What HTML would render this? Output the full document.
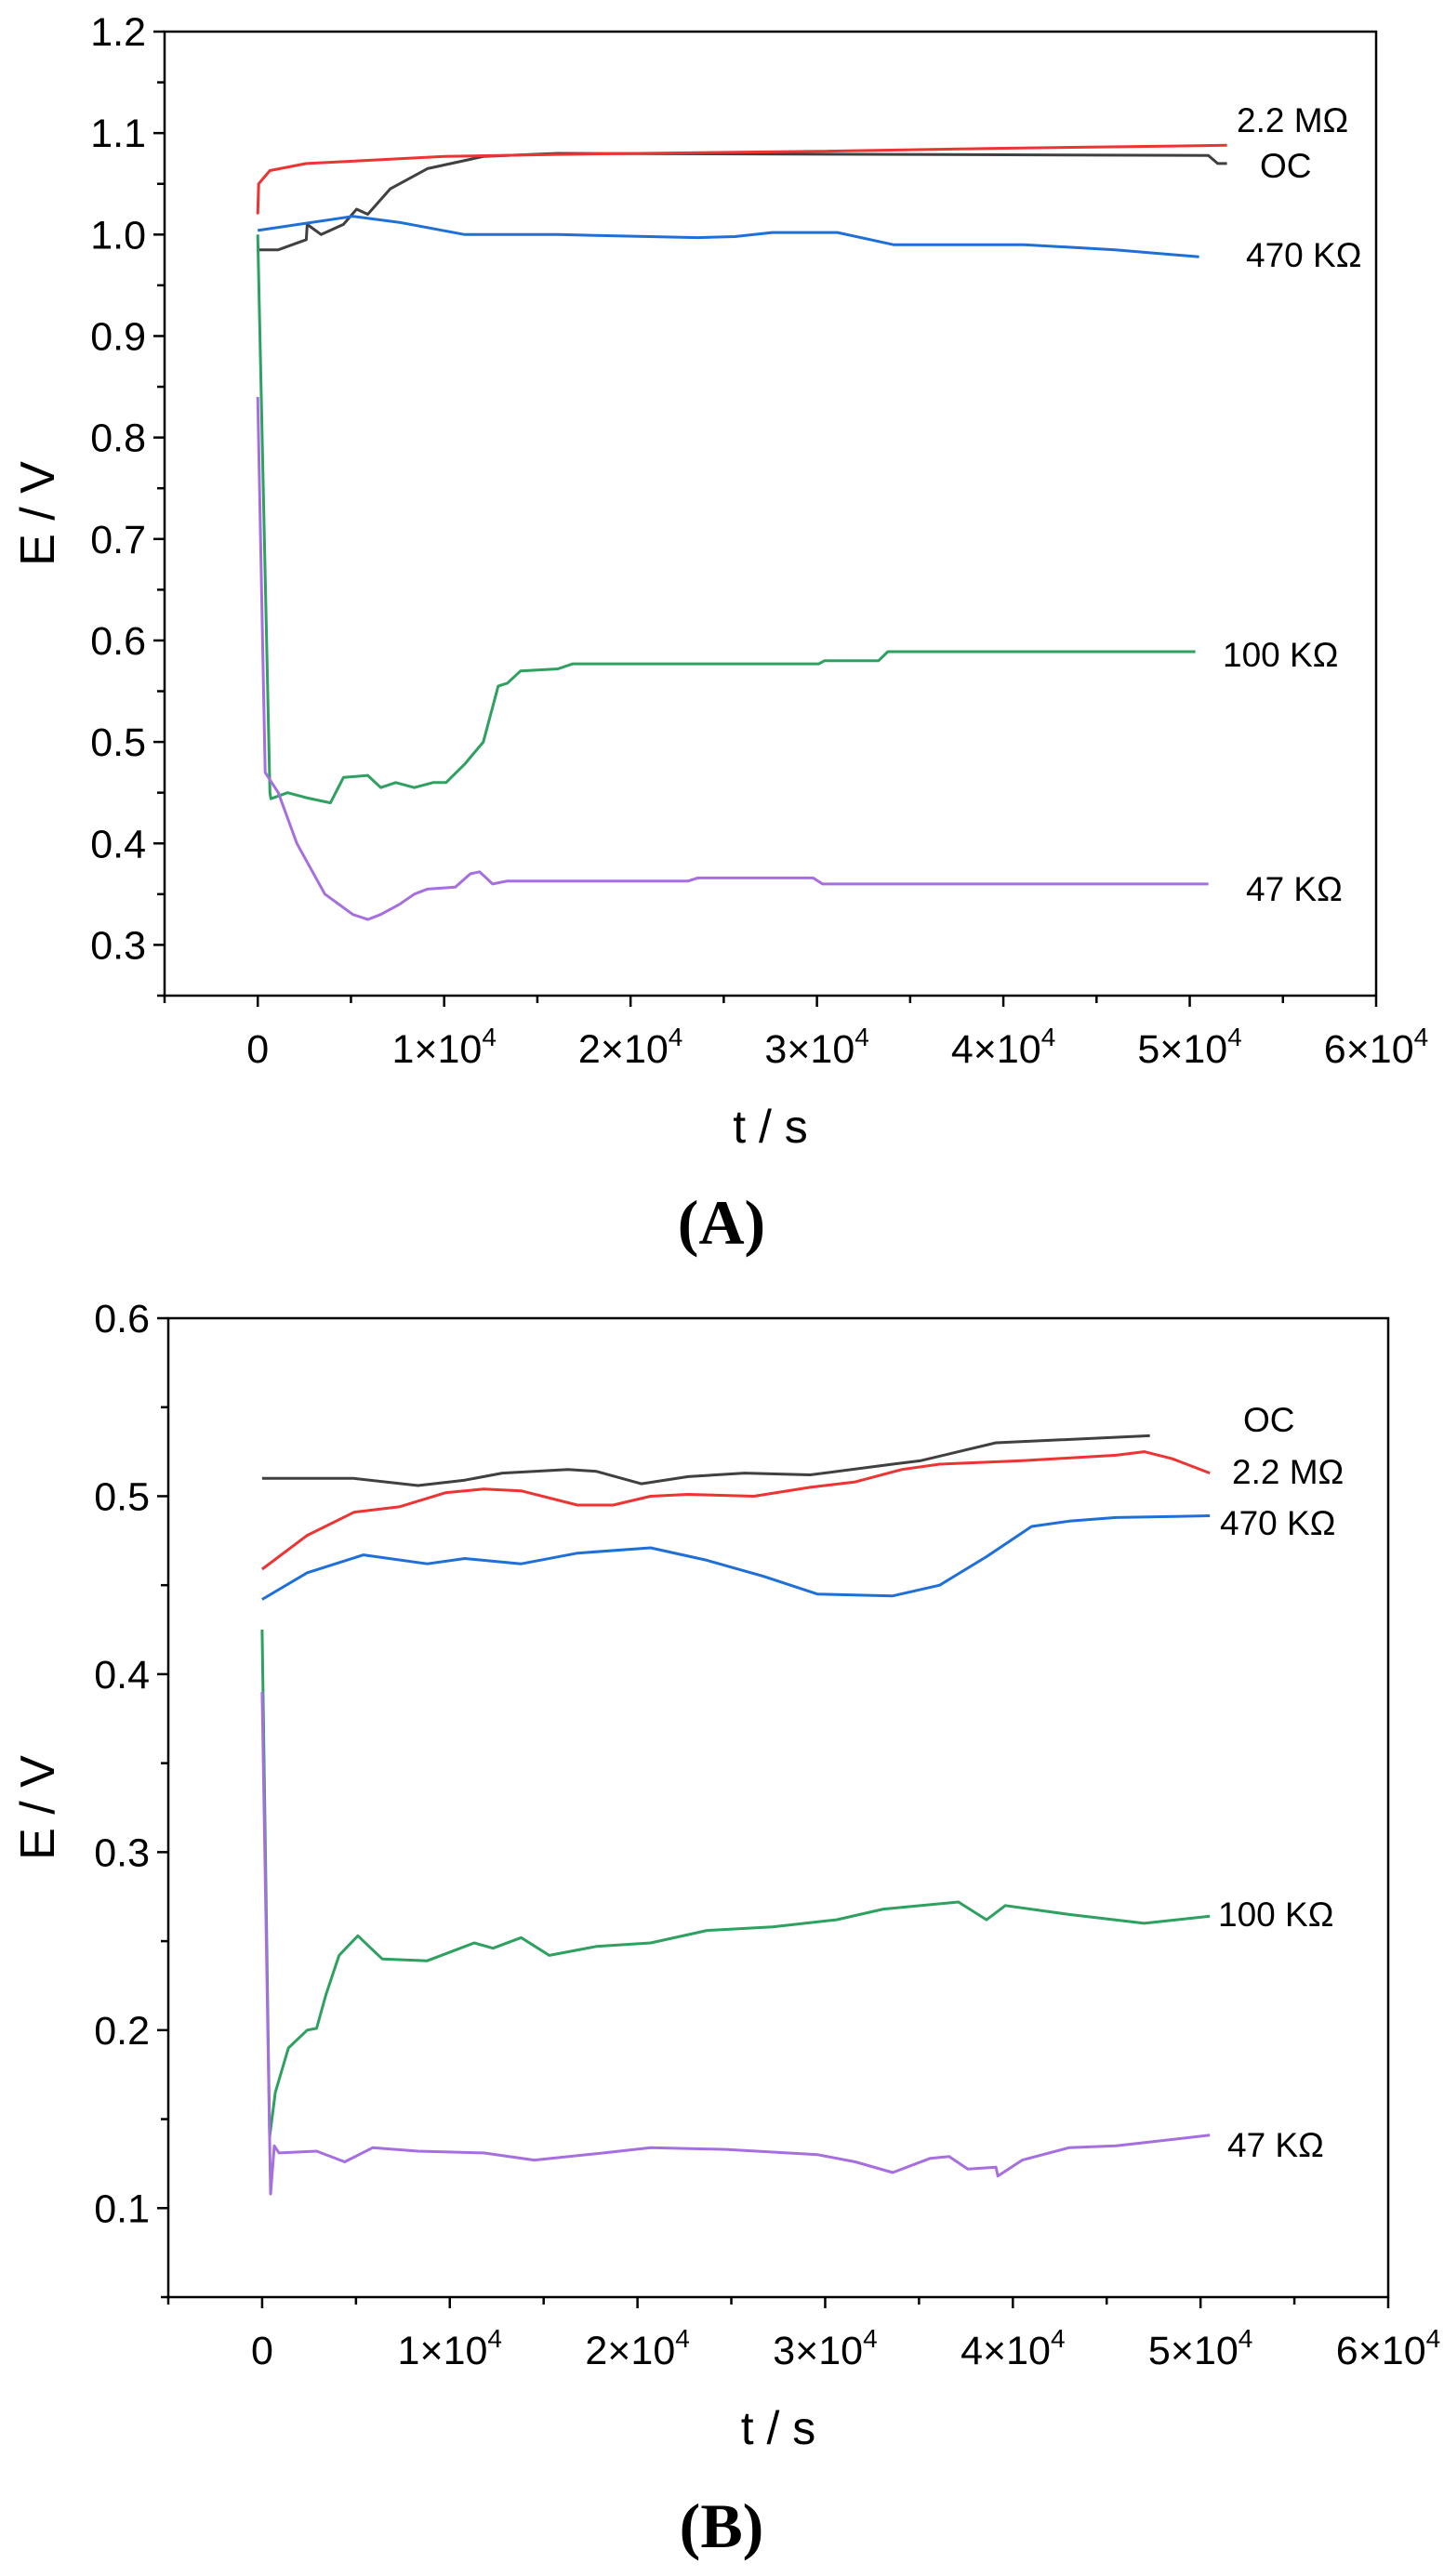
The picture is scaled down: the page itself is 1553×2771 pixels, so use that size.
<!DOCTYPE html>
<html><head><meta charset="utf-8"><style>
html,body{margin:0;padding:0;background:#fff;}
svg{display:block;font-family:"Liberation Sans",sans-serif;}
</style></head><body>
<svg id="fig" width="1553" height="2771" viewBox="0 0 1553 2771" xmlns="http://www.w3.org/2000/svg">
<g id="gA"></g>
<g id="gB"></g>
<text x="776" y="1338" text-anchor="middle" font-family="Liberation Serif,serif" font-weight="bold" font-size="68">(A)</text>
<text x="776" y="2740" text-anchor="middle" font-family="Liberation Serif,serif" font-weight="bold" font-size="68">(B)</text>
</svg>
<script>
// Panel A data (t in units of 1e4 s, E in V)
const aRed=[[0,1.02],[0.005,1.05],[0.065,1.063],[0.26,1.07],[1.0,1.077],[1.61,1.079],[3.0,1.082],[4.0,1.085],[5.2,1.088]];
const aBlack=[[0,0.985],[0.11,0.985],[0.26,0.995],[0.265,1.01],[0.34,1.0],[0.46,1.01],[0.53,1.025],[0.59,1.02],[0.71,1.045],[0.91,1.065],[1.21,1.077],[1.61,1.08],[5.1,1.078],[5.15,1.07],[5.2,1.07]];
const aBlue=[[0,1.004],[0.51,1.018],[0.76,1.012],[1.11,1.0],[1.61,1.0],[2.36,0.997],[2.56,0.998],[2.76,1.002],[3.11,1.002],[3.41,0.99],[4.11,0.99],[4.6,0.985],[5.05,0.978]];
const aGreen=[[0,1.0],[0.065,0.45],[0.07,0.444],[0.16,0.45],[0.26,0.445],[0.39,0.44],[0.46,0.465],[0.59,0.467],[0.66,0.455],[0.74,0.46],[0.84,0.455],[0.94,0.46],[1.01,0.46],[1.11,0.478],[1.21,0.5],[1.29,0.555],[1.34,0.558],[1.41,0.57],[1.61,0.572],[1.69,0.577],[3.01,0.577],[3.04,0.58],[3.33,0.58],[3.38,0.589],[5.03,0.589]];
const aPurple=[[0,0.84],[0.04,0.47],[0.11,0.45],[0.21,0.4],[0.36,0.35],[0.51,0.33],[0.59,0.325],[0.66,0.33],[0.76,0.34],[0.84,0.35],[0.91,0.355],[1.06,0.357],[1.14,0.37],[1.19,0.372],[1.26,0.36],[1.34,0.363],[2.31,0.363],[2.36,0.366],[2.98,0.366],[3.03,0.36],[5.1,0.36]];
const aYTicks=[0.3,0.4,0.5,0.6,0.7,0.8,0.9,1.0,1.1,1.2];
// Panel B data
const bBlack=[[0,0.51],[0.49,0.51],[0.83,0.506],[1.08,0.509],[1.28,0.513],[1.63,0.515],[1.78,0.514],[2.02,0.507],[2.27,0.511],[2.57,0.513],[2.92,0.512],[3.36,0.518],[3.51,0.52],[3.71,0.525],[3.91,0.53],[4.73,0.534]];
const bRed=[[0,0.459],[0.24,0.478],[0.49,0.491],[0.73,0.494],[0.98,0.502],[1.18,0.504],[1.38,0.503],[1.68,0.495],[1.87,0.495],[2.07,0.5],[2.27,0.501],[2.62,0.5],[2.92,0.505],[3.16,0.508],[3.41,0.515],[3.61,0.518],[4.05,0.52],[4.55,0.523],[4.7,0.525],[4.85,0.521],[5.05,0.513]];
const bBlue=[[0,0.442],[0.24,0.457],[0.54,0.467],[0.88,0.462],[1.08,0.465],[1.38,0.462],[1.68,0.468],[2.07,0.471],[2.37,0.464],[2.67,0.455],[2.96,0.445],[3.36,0.444],[3.61,0.45],[3.86,0.466],[4.1,0.483],[4.3,0.486],[4.55,0.488],[5.05,0.489]];
const bGreen=[[0,0.425],[0.04,0.14],[0.07,0.165],[0.14,0.19],[0.24,0.2],[0.29,0.201],[0.34,0.22],[0.41,0.242],[0.51,0.253],[0.59,0.245],[0.64,0.24],[0.88,0.239],[1.13,0.249],[1.23,0.246],[1.38,0.252],[1.53,0.242],[1.78,0.247],[2.07,0.249],[2.37,0.256],[2.72,0.258],[3.06,0.262],[3.31,0.268],[3.71,0.272],[3.86,0.262],[3.96,0.27],[4.3,0.265],[4.7,0.26],[5.05,0.264]];
const bPurple=[[0,0.39],[0.045,0.108],[0.065,0.135],[0.09,0.131],[0.29,0.132],[0.44,0.126],[0.59,0.134],[0.83,0.132],[1.18,0.131],[1.45,0.127],[1.82,0.131],[2.07,0.134],[2.47,0.133],[2.96,0.13],[3.16,0.126],[3.36,0.12],[3.56,0.128],[3.66,0.129],[3.76,0.122],[3.91,0.123],[3.92,0.118],[4.05,0.127],[4.3,0.134],[4.55,0.135],[5.05,0.141]];
const bYTicks=[0.1,0.2,0.3,0.4,0.5,0.6];
const xTicks=[0,1,2,3,4,5,6];

const NS="http://www.w3.org/2000/svg";
function mk(p,tag,at){const e=document.createElementNS(NS,tag);for(const k in at)e.setAttribute(k,at[k]);p.appendChild(e);return e;}

function panel(g,cfg){
  const X=t=>cfg.L+(t-(-0.5))/(6.5)*(cfg.R-cfg.L);
  const Y=v=>cfg.B-(v-cfg.ymin)/(cfg.ymax-cfg.ymin)*(cfg.B-cfg.T);
  const fr=mk(g,'rect',{x:cfg.L,y:cfg.T,width:cfg.R-cfg.L,height:cfg.B-cfg.T,fill:'none',stroke:'#000','stroke-width':2.5});
  
  
  for(let t=-0.5;t<=6.001;t+=0.5){
    const major=Math.abs(t-Math.round(t))<1e-6;
    const tk=mk(g,'line',{x1:X(t),x2:X(t),y1:cfg.B,y2:cfg.B+(major?12:8),stroke:'#000','stroke-width':2.5});
    
    
  }
  xTicks.forEach(t=>{
    const tx=mk(g,'text',{x:X(t),y:cfg.B+72,'text-anchor':'middle','font-size':43});
    
    
    if(t===0){tx.textContent='0';}
    else{tx.textContent=t+'×10';const s=mk(tx,'tspan',{dy:-18,'font-size':28});s.textContent='4';}
  });
  for(let v=cfg.ymin;v<=cfg.ymax+1e-6;v+=0.05){
    const major=cfg.yticks.some(q=>Math.abs(q-v)<1e-6);
    const tk=mk(g,'line',{x1:cfg.L,x2:cfg.L-(major?12:8),y1:Y(v),y2:Y(v),stroke:'#000','stroke-width':2.5});
    
    
  }
  cfg.yticks.forEach(v=>{
    const tx=mk(g,'text',{x:cfg.L-20,y:Y(v)+15,'text-anchor':'end','font-size':43});
    
    
    tx.textContent=v.toFixed(1);
  });
  const xt=mk(g,'text',{x:(cfg.L+cfg.R)/2,y:cfg.B+158,'text-anchor':'middle','font-size':50});
  
  
  xt.textContent='t / s';
  const yc=(cfg.T+cfg.B)/2;
  const yt=mk(g,'text',{x:58,y:yc,'text-anchor':'middle','font-size':52,transform:'rotate(-90 58 '+yc+')'});
  
  
  yt.textContent='E / V';
  cfg.series.forEach(s=>{
    const pl=mk(g,'polyline',{points:s.d.map(p=>X(p[0]).toFixed(1)+','+Y(p[1]).toFixed(1)).join(' '),fill:'none',stroke:s.c,'stroke-width':3,'stroke-linejoin':'round'});
    
    
  });
  cfg.labels.forEach(l=>{
    const tx=mk(g,'text',{x:l[1],y:l[2]+13,'font-size':37});
    
    
    tx.textContent=l[0];
  });
}
panel(document.getElementById('gA'),{L:177,R:1480,T:34,B:1071,ymin:0.25,ymax:1.2,yticks:aYTicks,
 series:[{d:aBlack,c:'#404040',n:'line-oc'},{d:aRed,c:'#ee3333',n:'line-2.2m'},{d:aBlue,c:'#1f6fd8',n:'line-470k'},{d:aGreen,c:'#2ea060',n:'line-100k'},{d:aPurple,c:'#a66fe0',n:'line-47k'}],
 labels:[['2.2 MΩ',1330,129,'label-2.2m'],['OC',1355,178,'label-oc'],['470 KΩ',1340,274,'label-470k'],['100 KΩ',1315,704,'label-100k'],['47 KΩ',1340,956,'label-47k']]});
panel(document.getElementById('gB'),{L:181,R:1493,T:1418,B:2471,ymin:0.05,ymax:0.6,yticks:bYTicks,
 series:[{d:bBlack,c:'#404040',n:'line-oc'},{d:bRed,c:'#ee3333',n:'line-2.2m'},{d:bBlue,c:'#1f6fd8',n:'line-470k'},{d:bGreen,c:'#2ea060',n:'line-100k'},{d:bPurple,c:'#a66fe0',n:'line-47k'}],
 labels:[['OC',1337,1527,'label-oc'],['2.2 MΩ',1325,1583,'label-2.2m'],['470 KΩ',1312,1638,'label-470k'],['100 KΩ',1310,2059,'label-100k'],['47 KΩ',1320,2307,'label-47k']]});
</script>
</body></html>
